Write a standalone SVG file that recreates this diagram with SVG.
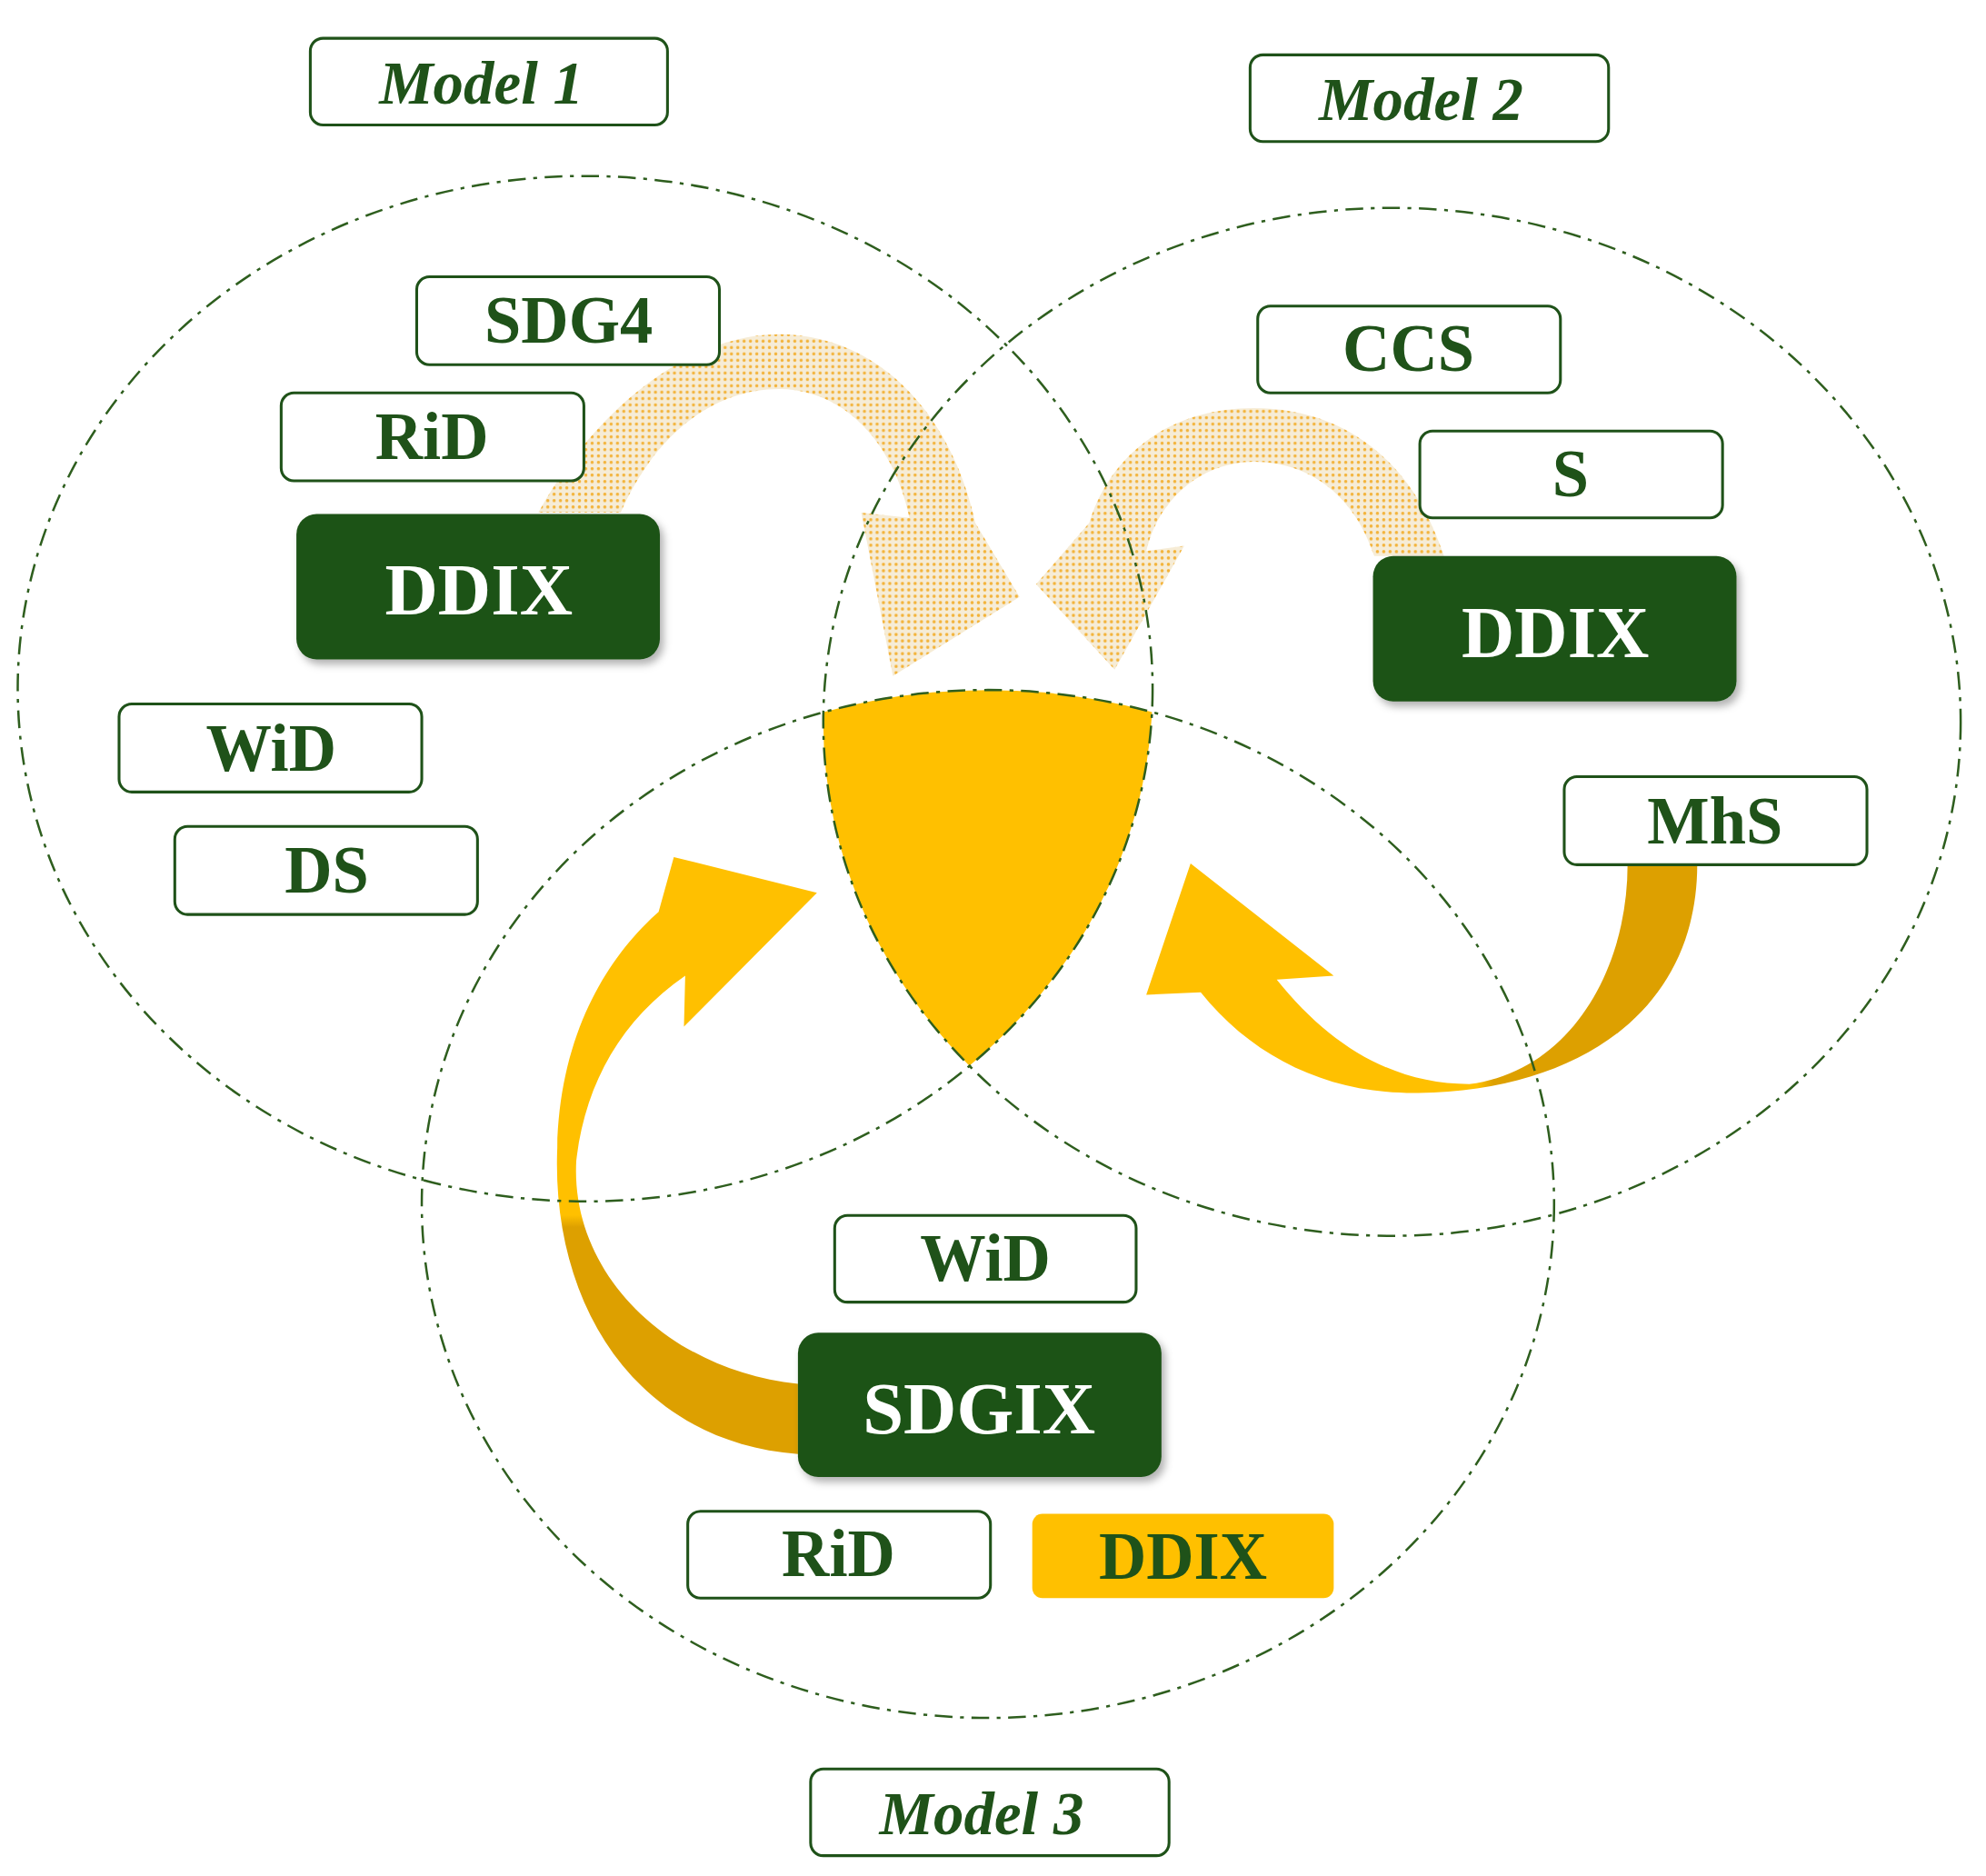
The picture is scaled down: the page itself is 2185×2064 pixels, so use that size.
<svg xmlns="http://www.w3.org/2000/svg" width="2185" height="2064" viewBox="0 0 2185 2064">
<style>
.c{fill:none;stroke:#2E5E1E;stroke-width:1.8;stroke-dasharray:14 6 3 6}
.b{fill:#fff;stroke:#1F5219;stroke-width:2.2}
.d{fill:#1F5219}
.t{font-family:"Liberation Serif",serif;font-weight:bold;fill:#1F5219;text-anchor:middle}
.w{font-family:"Liberation Serif",serif;font-weight:bold;fill:#fff;text-anchor:middle;font-size:58px}
.m{font-family:"Liberation Serif",serif;font-weight:bold;font-style:italic;fill:#1F5219;text-anchor:middle;font-size:48px}
</style>
<defs>
<pattern id="dots" width="5" height="5" patternUnits="userSpaceOnUse">
<rect width="5" height="5" fill="#F6ECD6"/><circle cx="2.5" cy="2.5" r="1.3" fill="#F3B33A"/>
</pattern>
<linearGradient id="g3" x1="0" y1="0" x2="0" y2="1"><stop offset="0" stop-color="#FFC000"/><stop offset="0.6" stop-color="#FFC000"/><stop offset="0.62" stop-color="#DDA000"/><stop offset="1" stop-color="#DDA000"/></linearGradient>
<linearGradient id="g4" x1="0" y1="0" x2="1" y2="0"><stop offset="0" stop-color="#FFC000"/><stop offset="0.6" stop-color="#FFC000"/><stop offset="0.63" stop-color="#DDA000"/><stop offset="1" stop-color="#DDA000"/></linearGradient>
<filter id="sh" x="-10%" y="-10%" width="130%" height="140%"><feDropShadow dx="3" dy="4" stdDeviation="3" flood-color="#000" flood-opacity="0.3"/></filter>
<clipPath id="k1"><ellipse cx="462" cy="540" rx="448" ry="402"/></clipPath>
<clipPath id="k2"><ellipse cx="1099" cy="566" rx="449" ry="403"/></clipPath>
<clipPath id="k3"><ellipse cx="780" cy="944" rx="447" ry="403"/></clipPath>
</defs>
<rect width="2185" height="2064" fill="#fff"/>
<g transform="scale(1.3935 1.4032)">
<g id="center" clip-path="url(#k1)"><g clip-path="url(#k2)"><g clip-path="url(#k3)"><path d="M600,500 H960 V900 H790 L690,760 Z" fill="#FFC000"/></g></g></g>
<g id="connectors">
<path d="M425,402 C470,320 545,262 615,262 C690,262 750,320 770,410 L805,468 L705,530 L680,402 L718,406 C705,345 665,305 615,305 C560,305 515,345 490,402 Z" fill="url(#dots)"/>
<path d="M1140,436 C1115,360 1060,320 990,320 C920,320 875,360 860,410 L818,458 L880,525 L935,428 L905,432 C915,390 950,362 990,362 C1035,362 1070,390 1085,436 Z" fill="url(#dots)"/>
<path d="M630,1140 C500,1130 435,1020 440,900 C442,810 480,750 520,715 L532,672 L645,700 L540,805 L541,765 C490,800 462,850 455,910 C450,1000 530,1075 630,1085 Z" fill="url(#g3)"/>
<path d="M1340,678 C1340,790 1250,855 1120,857 C1050,858 990,830 948,778 L905,780 L940,677 L1053,765 L1008,768 C1050,820 1100,850 1160,850 C1240,840 1285,760 1285,678 Z" fill="url(#g4)"/>
</g>
<g id="circles">
<ellipse class="c" cx="462" cy="540" rx="448" ry="402"/>
<ellipse class="c" cx="1099" cy="566" rx="449" ry="403"/>
<ellipse class="c" cx="780" cy="944" rx="447" ry="403"/>
</g>
<g id="model1"><rect class="b" x="245" y="30" width="282" height="68" rx="10"/><text class="m" x="380" y="81">Model 1</text></g>
<g id="model2"><rect class="b" x="987" y="43" width="283" height="68" rx="10"/><text class="m" x="1122" y="94">Model 2</text></g>
<g id="model3"><rect class="b" x="640" y="1387" width="283" height="68" rx="10"/><text class="m" x="775" y="1438">Model 3</text></g>
<g id="sdg4"><rect class="b" x="329" y="217" width="239" height="69" rx="10"/><text class="t" x="449" y="269" font-size="52">SDG4</text></g>
<g id="rid1"><rect class="b" x="222" y="308" width="239" height="69" rx="10"/><text class="t" x="341" y="360" font-size="52">RiD</text></g>
<g id="ddix1"><rect class="d" x="234" y="403" width="287" height="114" rx="16" filter="url(#sh)"/><text class="w" x="378" y="482">DDIX</text></g>
<g id="wid1"><rect class="b" x="94" y="552" width="239" height="69" rx="10"/><text class="t" x="214" y="604" font-size="52">WiD</text></g>
<g id="ds"><rect class="b" x="138" y="648" width="239" height="69" rx="10"/><text class="t" x="258" y="700" font-size="52">DS</text></g>
<g id="ccs"><rect class="b" x="993" y="240" width="239" height="68" rx="10"/><text class="t" x="1112" y="291" font-size="52">CCS</text></g>
<g id="s"><rect class="b" x="1121" y="338" width="239" height="68" rx="10"/><text class="t" x="1240" y="389" font-size="52">S</text></g>
<g id="ddix2"><rect class="d" x="1084" y="436" width="287" height="114" rx="16" filter="url(#sh)"/><text class="w" x="1228" y="515">DDIX</text></g>
<g id="mhs"><rect class="b" x="1235" y="609" width="239" height="69" rx="10"/><text class="t" x="1354" y="661" font-size="52">MhS</text></g>
<g id="wid3"><rect class="b" x="659" y="953" width="238" height="68" rx="10"/><text class="t" x="778" y="1004" font-size="52">WiD</text></g>
<g id="sdgix"><rect class="d" x="630" y="1045" width="287" height="113" rx="16" filter="url(#sh)"/><text class="w" x="773" y="1124">SDGIX</text></g>
<g id="rid3"><rect class="b" x="543" y="1185" width="239" height="68" rx="10"/><text class="t" x="662" y="1236" font-size="52">RiD</text></g>
<g id="ddix3"><rect x="815" y="1187" width="238" height="66" rx="8" fill="#FFC000"/><text class="t" x="934" y="1238" font-size="52">DDIX</text></g>
</g>
</svg>
